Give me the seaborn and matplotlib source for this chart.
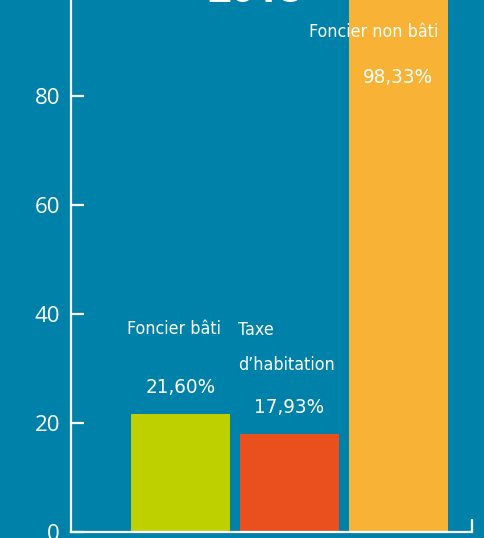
import matplotlib
matplotlib.use("Agg")
import matplotlib.pyplot as plt
from matplotlib import font_manager as fm
import seaborn as sns
import pandas as pd

# données (taux 2018)
categories = ["Foncier bâti", "Taxe d’habitation", "Foncier non bâti"]
valeurs = [21.60, 17.93, 98.33]
couleurs = ["#BFD000", "#E9501E", "#F8B236"]
yticks = [0, 20, 40, 60, 80]
titre = "2018"

fond = "#0081A9"

sns.set_style("white")
plt.rcParams['font.family'] = ['Open Sans', 'DejaVu Sans']

# police étroite droite si disponible
etroite = None
for f in fm.fontManager.ttflist:
    if f.style != "normal":
        continue
    if f.stretch in ("condensed", "semi-condensed", "extra-condensed", "ultra-condensed") \
            or "Narrow" in f.name or "Condensed" in f.name:
        if f.weight in (300, 400, "normal", "light", "regular", "book"):
            etroite = f.fname
            break
if etroite:
    prop_txt = fm.FontProperties(fname=etroite, size=19)
else:
    prop_txt = fm.FontProperties(family="DejaVu Sans", size=19)

df = pd.DataFrame({"cat": categories, "val": valeurs})

fig = plt.figure(figsize=(4.84, 5.38), dpi=100, facecolor=fond)
ax = fig.add_axes([71 / 484, 6 / 538, 401 / 484, 532 / 538])
ax.set_facecolor(fond)

sns.barplot(data=df, x="cat", y="val", hue="cat", palette=couleurs,
            saturation=1, width=0.908, legend=False, linewidth=0, ax=ax)

ax.set_xlim(-1.005, 2.674)
ax.set_ylim(0, 97.6)
ax.set_yticks(yticks)
ax.set_xticks([2.67])
ax.set_xticklabels([""])
ax.set_xlabel("")
ax.set_ylabel("")

for s in ["top", "right"]:
    ax.spines[s].set_visible(False)
for s in ["left", "bottom"]:
    ax.spines[s].set_color("white")
    ax.spines[s].set_linewidth(1.6)
ax.tick_params(axis="both", direction="in", length=9.5, width=1.6, left=True, bottom=True,
               color="white", labelcolor="white", labelsize=16, pad=8)

# taille de police ajustée pour que "Foncier bâti" fasse ~94 px de large
renderer = fig.canvas.get_renderer()
essai = ax.text(0, 0, "Foncier bâti", fontproperties=prop_txt)
largeur = essai.get_window_extent(renderer).width
essai.remove()
taille = 19 * 94 / largeur
prop_txt.set_size(taille)
prop_pct = prop_txt.copy()
prop_pct.set_size(taille * 1.15)

# étiquettes
txt = dict(color="white", fontproperties=prop_txt)
pct = dict(color="white", fontproperties=prop_pct)
ax.text(-0.06, 37.2, "Foncier bâti", ha="center", va="center", **txt)
ax.text(0, 26.6, "21,60%", ha="center", va="center", **pct)
ax.text(0.53, 37.1, "Taxe", ha="left", va="center", **txt)
ax.text(0.53, 30.6, "d’habitation", ha="left", va="center", **txt)
ax.text(0.995, 22.9, "17,93%", ha="center", va="center", **pct)
ax.text(1.775, 91.7, "Foncier non bâti", ha="center", va="center", **txt)
ax.text(1.99, 83.3, "98,33%", ha="center", va="center", **pct)

fig.text(255 / 484, 1 - 1.5 / 538, titre, ha="center", va="baseline",
         color="white", fontsize=30, fontweight="bold")

plt.savefig("out.png", dpi=100, facecolor=fond)
